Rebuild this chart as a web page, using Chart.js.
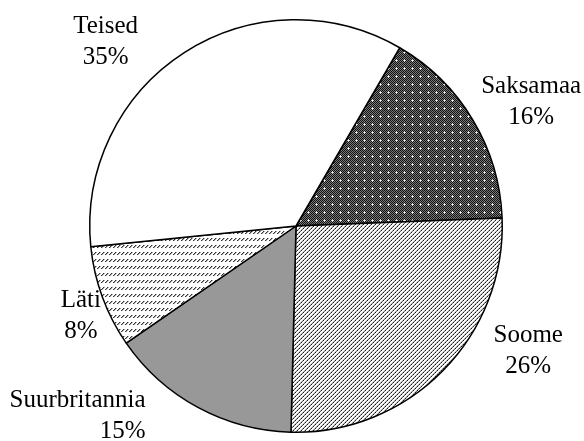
<!DOCTYPE html>
<html>
<head>
<meta charset="utf-8">
<script src="https://cdn.jsdelivr.net/npm/chart.js@4/dist/chart.umd.min.js"></script>
<style>
  html, body { margin: 0; padding: 0; background: #fff; }
  #wrap { width: 584px; height: 441px; }
</style>
</head>
<body>
<div id="wrap"><canvas id="chartRiigid" width="584" height="441"></canvas></div>
<script>
// andmed
const riigid = ["Saksamaa", "Soome", "Suurbritannia", "Läti", "Teised"];
const osakaal = [16, 26, 15, 8, 35];

// sildi asukoht raadiuse suhtes (x, y) ja joondus
const sildiNihe = [
  [1.140, -0.647, "center"],
  [1.126, 0.560, "center"],
  [-0.729, 0.879, "right"],
  [-1.043, 0.391, "center"],
  [-0.923, -0.937, "center"],
];

// mustrid
function teeMuster(w, h, joonista) {
  const c = document.createElement("canvas");
  c.width = w;
  c.height = h;
  const g = c.getContext("2d");
  g.fillStyle = "#fff";
  g.fillRect(0, 0, w, h);
  joonista(g);
  return g.createPattern(c, "repeat");
}

function px(g, x, y, col) {
  g.fillStyle = col;
  g.fillRect(x, y, 1, 1);
}

const ctx = document.getElementById("chartRiigid").getContext("2d");

// Saksamaa: tume ruuduline, valged täpid
const mSaksamaa = teeMuster(8, 8, (g) => {
  for (let y = 0; y < 8; y++)
    for (let x = 0; x < 8; x++) px(g, x, y, (x + y) % 2 === 0 ? "#111" : "#7a7a7a");
  px(g, 4, 4, "#fff");
  px(g, 3, 4, "#cfcfcf");
  px(g, 5, 4, "#cfcfcf");
  px(g, 4, 3, "#cfcfcf");
  px(g, 4, 5, "#cfcfcf");
});

// Soome: tihe kaldviirutus
const mSoome = teeMuster(4, 4, (g) => {
  for (let y = 0; y < 4; y++)
    for (let x = 0; x < 4; x++) {
      const k = (x + y) % 4;
      if (k === 3) px(g, x, y, y % 2 === 0 ? "#1a1a1a" : "#6a6a6a");
      else if (k === 2) px(g, x, y, "#c4c4c4");
    }
});

// Suurbritannia: hall
const mSuurbritannia = "#989898";

// Läti: kaldkriipsude read
const mLati = teeMuster(4, 7, (g) => {
  px(g, 3, 0, "#333");
  px(g, 2, 1, "#333");
  px(g, 1, 2, "#333");
  px(g, 0, 0, "#aaa");
  px(g, 3, 1, "#aaa");
  px(g, 2, 2, "#aaa");
});

const taustad = [mSaksamaa, mSoome, mSuurbritannia, mLati, "#ffffff"];

// 🔹 Sildid
const sildid = {
  id: "sildid",
  afterDraw(chart) {
    const c = chart.ctx;
    const kaared = chart.getDatasetMeta(0).data;
    c.save();
    c.fillStyle = "#000";
    c.font = "25px 'Liberation Serif', 'Times New Roman', serif";
    c.textBaseline = "alphabetic";
    kaared.forEach((a, i) => {
      const [nx, ny, joon] = sildiNihe[i];
      const x = a.x + nx * a.outerRadius;
      const y = a.y + ny * a.outerRadius;
      c.textAlign = joon;
      c.fillText(riigid[i], x, y);
      c.fillText(osakaal[i] + "%", x, y + 31);
    });
    c.restore();
  },
};

new Chart(ctx, {
  type: "pie",
  data: {
    labels: riigid,
    datasets: [
      {
        data: osakaal,
        backgroundColor: taustad,
        borderColor: "#000",
        borderWidth: 1.5,
      },
    ],
  },
  options: {
    responsive: false,
    animation: false,
    devicePixelRatio: 1,
    rotation: 30.2,
    layout: { padding: { left: 89, right: 81, top: 19, bottom: 8 } },
    plugins: {
      legend: { display: false },
      tooltip: { enabled: false },
    },
  },
  plugins: [sildid],
});
</script>
</body>
</html>
